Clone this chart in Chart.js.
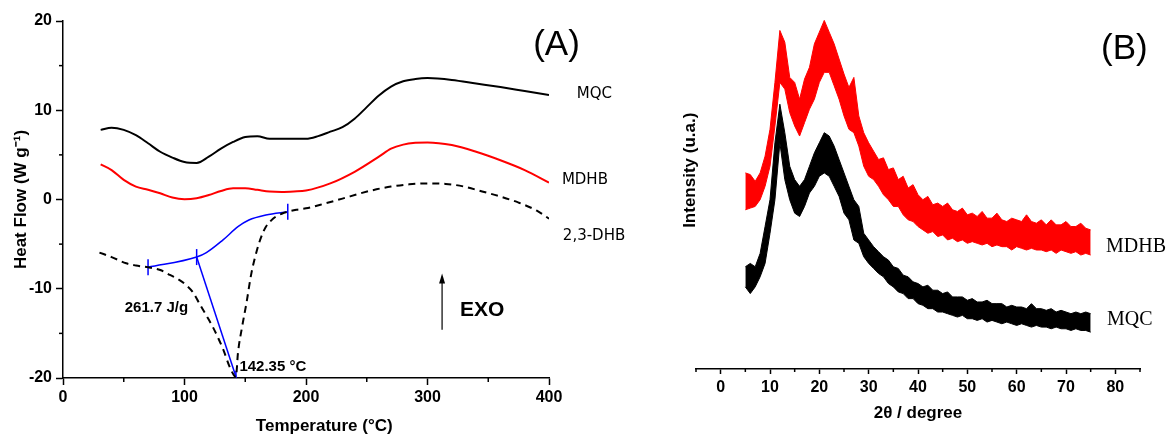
<!DOCTYPE html>
<html>
<head>
<meta charset="utf-8">
<title>DSC (A) and XRD (B)</title>
<script src="https://cdn.jsdelivr.net/npm/chart.js@4.4.1/dist/chart.umd.min.js"></script>
<style>
    body { margin: 0; background: #fff; }
    .wrap { position: relative; width: 1173px; height: 438px; }
    #chart-dsc { position: absolute; left: 0; top: 0; }
    #chart-xrd { position: absolute; left: 600px; top: 0; }
</style>
</head>
<body>
<div class="wrap">
    <canvas id="chart-dsc" width="650" height="438"></canvas>
    <canvas id="chart-xrd" width="573" height="438"></canvas>
</div>
<script>
// ---- Panel A: DSC curves (temperature in °C, heat flow in W/g) ----
const mqcT  = [31, 40, 50, 60, 70, 80, 90, 100, 110, 120, 130, 140, 150, 160, 170, 180, 200, 210, 220, 230, 240, 250, 260, 270, 280, 290, 300, 320, 340, 360, 380, 400];
const mqcHF = [7.8, 8.05, 7.8, 7.2, 6.3, 5.35, 4.7, 4.2, 4.1, 4.8, 5.7, 6.45, 7.0, 7.1, 6.8, 6.8, 6.8, 7.1, 7.6, 8.1, 9.05, 10.35, 11.65, 12.65, 13.25, 13.5, 13.6, 13.4, 13.0, 12.6, 12.15, 11.7];

const mdhbT  = [31, 40, 50, 60, 70, 80, 90, 100, 110, 120, 130, 140, 150, 160, 170, 180, 190, 200, 220, 240, 260, 270, 280, 290, 300, 320, 340, 360, 380, 400];
const mdhbHF = [3.93, 3.3, 2.2, 1.45, 1.1, 0.7, 0.22, 0.04, 0.15, 0.5, 0.96, 1.26, 1.26, 1.08, 0.9, 0.85, 0.9, 1.0, 1.8, 3.1, 4.8, 5.7, 6.15, 6.35, 6.4, 6.1, 5.35, 4.4, 3.3, 1.9];

const dhbT  = [30, 40, 52, 60, 70, 80, 88, 95, 101, 107, 112, 118, 123, 128, 132, 137, 140.5, 142.3, 144, 147.5, 151, 155, 160, 164, 167, 171, 175, 180, 185, 192, 200, 216, 230, 245, 258, 270, 285, 300, 315, 330, 345, 360, 375, 390, 400];
const dhbHF = [-5.95, -6.45, -7.15, -7.4, -7.6, -7.9, -8.45, -8.95, -9.55, -10.4, -11.6, -13.0, -14.2, -15.6, -16.85, -18.7, -19.65, -19.9, -17.2, -14.2, -11.6, -8.3, -5.5, -3.9, -3.05, -2.4, -1.93, -1.6, -1.37, -1.15, -0.99, -0.43, 0.1, 0.7, 1.14, 1.45, 1.7, 1.8, 1.75, 1.45, 0.9, 0.33, -0.35, -1.25, -2.15];

// melting peak integration construction (blue)
const baseT  = [70, 110, 118, 131.5, 144, 153, 167, 185];
const baseHF = [-7.6, -6.45, -5.95, -4.55, -3.05, -2.3, -1.74, -1.37];
const baseTickIdx = [0, 1, 7];
const dropT  = [110, 142.35];
const dropHF = [-6.45, -19.85];

const tempTicks = [0, 100, 200, 300, 400];
const tempMinor = [50, 150, 250, 350];
const heatMinor = [-15, -5, 5, 15];

// ---- Panel B: XRD patterns (2θ in degrees, intensity in a.u.) ----
// noisy traces kept as upper / lower envelope of the band
const twoTheta = [5, 6, 7, 8, 9, 10, 11, 12, 13, 14, 15, 16, 17, 18, 19, 20, 21, 22, 23, 24, 25, 26, 27, 28, 29, 30,
    31, 32, 33, 34, 35, 36, 37, 38, 39, 40, 41, 42, 43, 44, 45, 46, 47, 48, 49, 50,
    51, 52, 53, 54, 55, 56, 57, 58, 59, 60, 61, 62, 63, 64, 65, 66, 67, 68, 69, 70, 71, 72, 73, 74, 75];

const mdhbHigh = [58.5, 58, 56, 58.5, 63.5, 71.5, 85.5, 101, 97.5, 87, 85.5, 80.5, 86.5, 90, 97, 100.5, 104, 100.5, 97, 92.5, 88, 84, 87, 75.5, 70.5, 67.5,
    65, 62.5, 63, 59.5, 60, 56.5, 57.5, 54, 55, 52, 50.5, 51.5, 49, 49.5, 48.5, 49.5, 47.5, 47, 48, 46,
    46.5, 45.5, 47, 45, 45, 46.5, 44.5, 44, 45, 44.5, 44, 46, 44, 43.5, 44.5, 43, 44.5, 43, 43, 44, 42.5, 42.5, 43.5, 42, 41.5];
const mdhbLow = [47.5, 48, 48.5, 50.5, 54.5, 60.5, 72.5, 85.5, 83.5, 76.5, 72.5, 69.5, 73.5, 77.5, 80.5, 85.5, 88.5, 88.5, 84.5, 80.5, 75.5, 71.5, 70.5, 66.5, 60.5, 57.5,
    56.5, 54.5, 52, 50.5, 48.5, 48.5, 46, 44.5, 44, 42.5, 41.5, 40.5, 41, 39.5, 40, 38.5, 39, 38, 38.5, 37.5,
    38, 37.5, 37, 37.5, 36.5, 37, 36.5, 36.5, 35.5, 36.5, 36, 35.5, 36, 35.5, 35.5, 35, 35.5, 34.5, 35.5, 35, 34.5, 35, 34, 34.5, 34];

const mqcHigh = [30.5, 31.5, 30.5, 34.5, 42.5, 50.5, 67.5, 79, 70.5, 60.5, 56.5, 54.5, 56.5, 60.5, 64.5, 67.5, 70.5, 69.5, 66.5, 62.5, 58.5, 54.5, 50.5, 48.5, 40.5, 38.5,
    36.5, 35, 33.5, 32.5, 30.5, 30, 28, 27.5, 26, 25.5, 24.5, 25, 23.5, 23.5, 22.5, 23, 21.5, 21.5, 21.5, 20.5,
    21, 20, 20, 20.5, 19.5, 19.5, 19.5, 18.5, 19, 18.5, 18.5, 18, 19.5, 18, 18, 17.5, 18, 17, 17.5, 17, 16.5, 17, 16.5, 17, 16.5];
const mqcLow = [24.5, 22.5, 24.5, 27.5, 31.5, 40.5, 50.5, 67.5, 56.5, 50.5, 46.5, 45.5, 48.5, 52.5, 54.5, 57.5, 58.5, 57.5, 54.5, 51.5, 46.5, 44.5, 38.5, 37.5, 33.5, 31.5,
    30, 28.5, 27.5, 25.5, 24.5, 23, 22.5, 21, 21, 19.5, 19, 18, 18, 17, 17, 16.5, 16, 15.5, 16, 15,
    15, 14.5, 15, 14, 14.5, 14, 13.5, 14, 13.5, 13, 13.5, 13, 12.5, 13, 12.5, 12.5, 12, 12.5, 12, 12, 11.5, 12, 11.5, 11.5, 11];

const thetaTicks = [0, 10, 20, 30, 40, 50, 60, 70, 80];
const thetaMinor = [-5, 5, 15, 25, 35, 45, 55, 65, 75, 85];

const COLORS = {
    black: '#000000',
    red: '#ff0000',
    blue: '#0000ff'
};

const SANS = '"Liberation Sans", Arial, Helvetica, sans-serif';
const SERIF = '"Liberation Serif", "Times New Roman", serif';

/**
 * Zip two arrays into {x, y} points
 */
function toPoints(xs, ys) {
    return xs.map((v, i) => ({ x: v, y: ys[i] }));
}

/**
 * Minor tick marks (Chart.js has no native minor ticks)
 */
const minorTicks = {
    id: 'minorTicks',
    afterDraw(chart, args, opts) {
        const ctx = chart.ctx;
        ctx.save();
        ctx.strokeStyle = '#000';
        ctx.lineWidth = 1.5;
        (opts.axes || []).forEach(a => {
            const scale = chart.scales[a.id];
            a.values.forEach(v => {
                const p = scale.getPixelForValue(v);
                ctx.beginPath();
                if (scale.isHorizontal()) {
                    ctx.moveTo(p, scale.top);
                    ctx.lineTo(p, scale.top + a.len);
                } else {
                    ctx.moveTo(scale.right, p);
                    ctx.lineTo(scale.right - a.len, p);
                }
                ctx.stroke();
            });
        });
        ctx.restore();
    }
};

/**
 * Free text and arrows placed in data coordinates
 */
const notes = {
    id: 'notes',
    afterDraw(chart, args, opts) {
        const { ctx, scales: { x, y } } = chart;
        (opts.items || []).forEach(n => {
            ctx.save();
            ctx.font = n.font;
            ctx.fillStyle = n.color || '#000';
            ctx.textBaseline = 'middle';
            const px = x.getPixelForValue(n.x);
            const py = y.getPixelForValue(n.y);
            if (n.rotate) {
                ctx.translate(px, py);
                ctx.rotate(-Math.PI / 2);
                ctx.textAlign = 'center';
                ctx.fillText(n.text, 0, 0);
            } else {
                ctx.textAlign = n.align || 'left';
                ctx.fillText(n.text, px, py);
            }
            ctx.restore();
        });
        (opts.arrows || []).forEach(a => {
            const px = x.getPixelForValue(a.x);
            const y0 = y.getPixelForValue(a.from);
            const y1 = y.getPixelForValue(a.to);
            ctx.save();
            ctx.strokeStyle = '#000';
            ctx.fillStyle = '#000';
            ctx.lineWidth = 1.2;
            ctx.beginPath();
            ctx.moveTo(px, y0);
            ctx.lineTo(px, y1 + 6);
            ctx.stroke();
            ctx.beginPath();
            ctx.moveTo(px, y1);
            ctx.lineTo(px - 3, y1 + 10);
            ctx.lineTo(px + 3, y1 + 10);
            ctx.closePath();
            ctx.fill();
            ctx.restore();
        });
    }
};

const tickFont = { family: SANS, size: 16, weight: 'bold' };
const titleFont = { family: SANS, size: 17, weight: 'bold' };

// ---- Chart A ----
new Chart(document.getElementById('chart-dsc'), {
    type: 'line',
    data: {
        datasets: [
            { data: toPoints(mqcT, mqcHF), borderColor: COLORS.black, borderWidth: 2, cubicInterpolationMode: 'monotone' },
            { data: toPoints(mdhbT, mdhbHF), borderColor: COLORS.red, borderWidth: 2, cubicInterpolationMode: 'monotone' },
            { data: toPoints(dhbT, dhbHF), borderColor: COLORS.black, borderWidth: 2, borderDash: [7, 5], cubicInterpolationMode: 'monotone' },
            {
                data: toPoints(baseT, baseHF), borderColor: COLORS.blue, borderWidth: 1.5, cubicInterpolationMode: 'monotone',
                pointStyle: 'line', rotation: 90, pointBorderColor: COLORS.blue, pointBorderWidth: 1.5,
                pointRadius: c => baseTickIdx.includes(c.dataIndex) ? 8 : 0
            },
            {
                data: toPoints(dropT, dropHF), borderColor: COLORS.blue, borderWidth: 1.5,
                pointStyle: 'line', rotation: 90, pointBorderColor: COLORS.blue, pointBorderWidth: 1.5,
                pointRadius: c => c.dataIndex === 1 ? 6 : 0
            }
        ]
    },
    options: {
        responsive: false,
        animation: false,
        layout: { padding: { top: 21, right: 101, bottom: 0, left: 0 } },
        elements: { point: { radius: 0 } },
        plugins: {
            legend: { display: false },
            tooltip: { enabled: false },
            minorTicks: {
                axes: [
                    { id: 'x', values: tempMinor, len: 4 },
                    { id: 'y', values: heatMinor, len: 4 }
                ]
            },
            notes: {
                items: [
                    { text: '(A)', x: 387, y: 17.3, font: '35px ' + SANS },
                    { text: 'MQC', x: 422.8, y: 11.8, font: '15px "DejaVu Sans", sans-serif' },
                    { text: 'MDHB', x: 410.6, y: 2.2, font: '15px "DejaVu Sans", sans-serif' },
                    { text: '2,3-DHB', x: 411.4, y: -4.1, font: '15px "DejaVu Sans", sans-serif' },
                    { text: '261.7 J/g', x: 50.8, y: -12.15, font: 'bold 15px ' + SANS },
                    { text: '142.35 °C', x: 145.2, y: -18.75, font: 'bold 15px ' + SANS },
                    { text: 'EXO', x: 326.8, y: -12.4, font: 'bold 21px ' + SANS },
                    { text: 'Temperature (°C)', x: 215, y: -25.4, align: 'center', font: 'bold 17px ' + SANS }
                ],
                arrows: [{ x: 312, from: -14.6, to: -8.3 }]
            }
        },
        scales: {
            x: {
                type: 'linear', min: 0, max: 400,
                afterBuildTicks: s => { s.ticks = tempTicks.map(v => ({ value: v })); },
                ticks: { color: '#000', font: tickFont, padding: 3, maxRotation: 0, autoSkip: false },
                grid: { drawOnChartArea: false, tickLength: 7, tickColor: '#000', tickWidth: 1.5 },
                border: { color: '#000', width: 1.5 },
                afterFit: s => { s.height = 60; }
            },
            y: {
                type: 'linear', min: -20, max: 20,
                ticks: { stepSize: 10, color: '#000', font: tickFont, padding: 4, autoSkip: false },
                grid: { drawOnChartArea: false, tickLength: 7, tickColor: '#000', tickWidth: 1.5 },
                border: { color: '#000', width: 1.5 },
                title: { display: true, text: 'Heat Flow (W g⁻¹)', color: '#000', font: titleFont, padding: { top: 11, bottom: 0 } },
                afterFit: s => { s.width = 63; }
            }
        }
    },
    plugins: [minorTicks, notes]
});

// ---- Chart B ----
new Chart(document.getElementById('chart-xrd'), {
    type: 'line',
    data: {
        datasets: [
            { data: toPoints(twoTheta, mdhbLow), borderColor: COLORS.red, backgroundColor: COLORS.red, borderWidth: 1, fill: false },
            { data: toPoints(twoTheta, mdhbHigh), borderColor: COLORS.red, backgroundColor: COLORS.red, borderWidth: 1, fill: '-1' },
            { data: toPoints(twoTheta, mqcLow), borderColor: COLORS.black, backgroundColor: COLORS.black, borderWidth: 1, fill: false },
            { data: toPoints(twoTheta, mqcHigh), borderColor: COLORS.black, backgroundColor: COLORS.black, borderWidth: 1, fill: '-1' }
        ]
    },
    options: {
        responsive: false,
        animation: false,
        layout: { padding: { top: 7, right: 33, bottom: 0, left: 96 } },
        elements: { point: { radius: 0 }, line: { tension: 0 } },
        plugins: {
            legend: { display: false },
            tooltip: { enabled: false },
            minorTicks: {
                axes: [{ id: 'x', values: thetaMinor, len: 3 }]
            },
            notes: {
                items: [
                    { text: '(B)', x: 77.1, y: 95.5, font: '35px ' + SANS },
                    { text: 'MDHB', x: 78.1, y: 36.5, font: '20px ' + SERIF },
                    { text: 'MQC', x: 78.3, y: 14.7, font: '20px ' + SERIF },
                    { text: 'Intensity (u.a.)', x: -6.2, y: 59.3, rotate: true, font: 'bold 17px ' + SANS }
                ]
            }
        },
        scales: {
            x: {
                type: 'linear', min: -5, max: 85,
                afterBuildTicks: s => { s.ticks = thetaTicks.map(v => ({ value: v })); },
                ticks: { color: '#000', font: tickFont, padding: 4, maxRotation: 0, autoSkip: false },
                grid: { drawOnChartArea: false, tickLength: 5, tickColor: '#000', tickWidth: 1.5 },
                border: { color: '#000', width: 1.5 },
                title: { display: true, text: '2θ / degree', color: '#000', font: titleFont, padding: { top: 0, bottom: 14 } },
                afterFit: s => { s.height = 69; }
            },
            y: {
                type: 'linear', min: 0, max: 108,
                display: false
            }
        }
    },
    plugins: [minorTicks, notes]
});
</script>
</body>
</html>
